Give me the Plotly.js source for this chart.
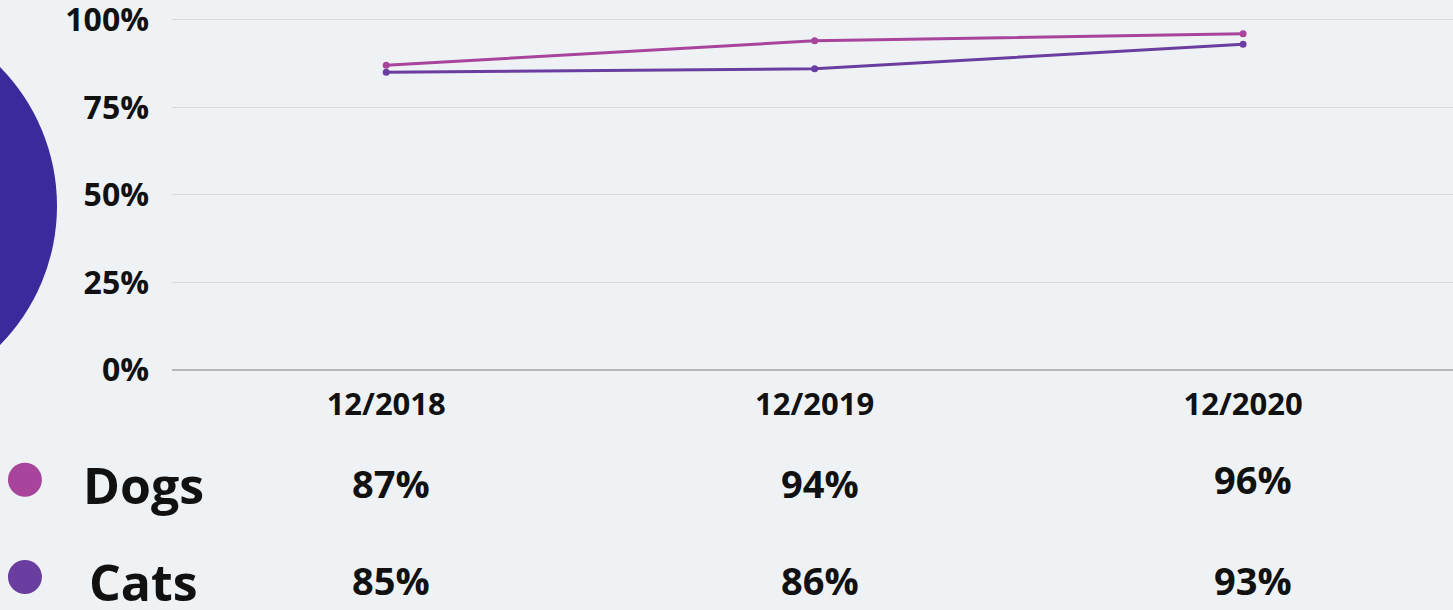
<!DOCTYPE html>
<html>
<head>
<meta charset="utf-8">
<script src="https://cdn.plot.ly/plotly-3.0.1.min.js"></script>
<style>
  html, body { margin: 0; padding: 0; background: #eef2f4; overflow: hidden; }
  #wrap { position: relative; width: 1453px; height: 610px; }
  #blob {
    position: absolute; left: -339px; top: 8px; width: 396px; height: 396px;
    border-radius: 50%; background: #3a2b9c;
  }
  #graph { position: absolute; left: 0; top: 0; width: 1453px; height: 610px; }
</style>
</head>
<body>
<div id="wrap">
  <div id="blob"></div>
  <div id="graph"></div>
</div>
<script>
// data
const periods = ['12/2018', '12/2019', '12/2020'];
const seriesNames = ['Dogs', 'Cats'];
const dogsValues = [87, 94, 96];
const catsValues = [85, 86, 93];
const seriesColors = ['#a8449c', '#6a3ea0'];
const yTicks = [0, 25, 50, 75, 100];
const yTickLabels = ['0%', '25%', '50%', '75%', '100%'];

document.addEventListener('DOMContentLoaded', function () {
  const allValues = [dogsValues, catsValues];
  const font = { family: 'Open Sans, sans-serif', color: '#111111', weight: 'bold' };

  // lines (cats drawn first so dogs sits on top)
  const traces = [1, 0].map(function (i) {
    return {
      x: periods,
      y: allValues[i],
      name: seriesNames[i],
      type: 'scatter',
      mode: 'lines+markers',
      line: { color: seriesColors[i], width: 3 },
      marker: { color: seriesColors[i], size: 7 },
      cliponaxis: false,
      hoverinfo: 'skip'
    };
  });

  // table rows under the chart (paper units, plot height ~352px)
  const rowY = [-0.321, -0.597];
  const annotations = [];
  const shapes = [];
  seriesNames.forEach(function (name, r) {
    annotations.push({
      xref: 'paper', yref: 'paper', x: -0.0219, y: rowY[r] - 0.006,
      xanchor: 'center', yanchor: 'middle', showarrow: false,
      text: name, font: Object.assign({}, font, { size: 50 })
    });
    shapes.push({
      type: 'circle', xref: 'paper', yref: 'paper',
      xsizemode: 'pixel', ysizemode: 'pixel',
      xanchor: -0.1148, yanchor: rowY[r] + 0.009,
      x0: -17, x1: 17, y0: -17, y1: 17,
      fillcolor: seriesColors[r], line: { width: 0 }
    });
    allValues[r].forEach(function (v, c) {
      annotations.push({
        xref: 'x', yref: 'paper', x: periods[c], y: rowY[r] + (r === 0 && c === 2 ? 0.01 : 0),
        xanchor: 'center', yanchor: 'middle', showarrow: false, xshift: c === 2 ? 10 : 5,
        text: v + '%', font: Object.assign({}, font, { size: 38 })
      });
    });
  });

  const layout = {
    width: 1453,
    height: 610,
    margin: { l: 172, r: 0, t: 18, b: 240 },
    paper_bgcolor: 'rgba(0,0,0,0)',
    plot_bgcolor: 'rgba(0,0,0,0)',
    showlegend: false,
    xaxis: {
      type: 'category',
      range: [-0.5, 2.49],
      showgrid: false,
      zeroline: false,
      showline: false,
      ticks: '',
      ticklabelstandoff: 13,
      tickfont: Object.assign({}, font, { size: 31 })
    },
    yaxis: {
      range: [0, 100.5],
      tickvals: yTicks,
      ticktext: yTickLabels,
      showgrid: true,
      gridcolor: '#d6dadd',
      gridwidth: 1,
      zeroline: true,
      zerolinecolor: '#b4b8bb',
      zerolinewidth: 2,
      showline: false,
      ticks: '',
      ticklabelstandoff: 22,
      ticklabeloverflow: 'allow',
      tickfont: Object.assign({}, font, { size: 32 })
    },
    annotations: annotations,
    shapes: shapes
  };

  Plotly.newPlot('graph', traces, layout, { staticPlot: true });
});
</script>
</body>
</html>
